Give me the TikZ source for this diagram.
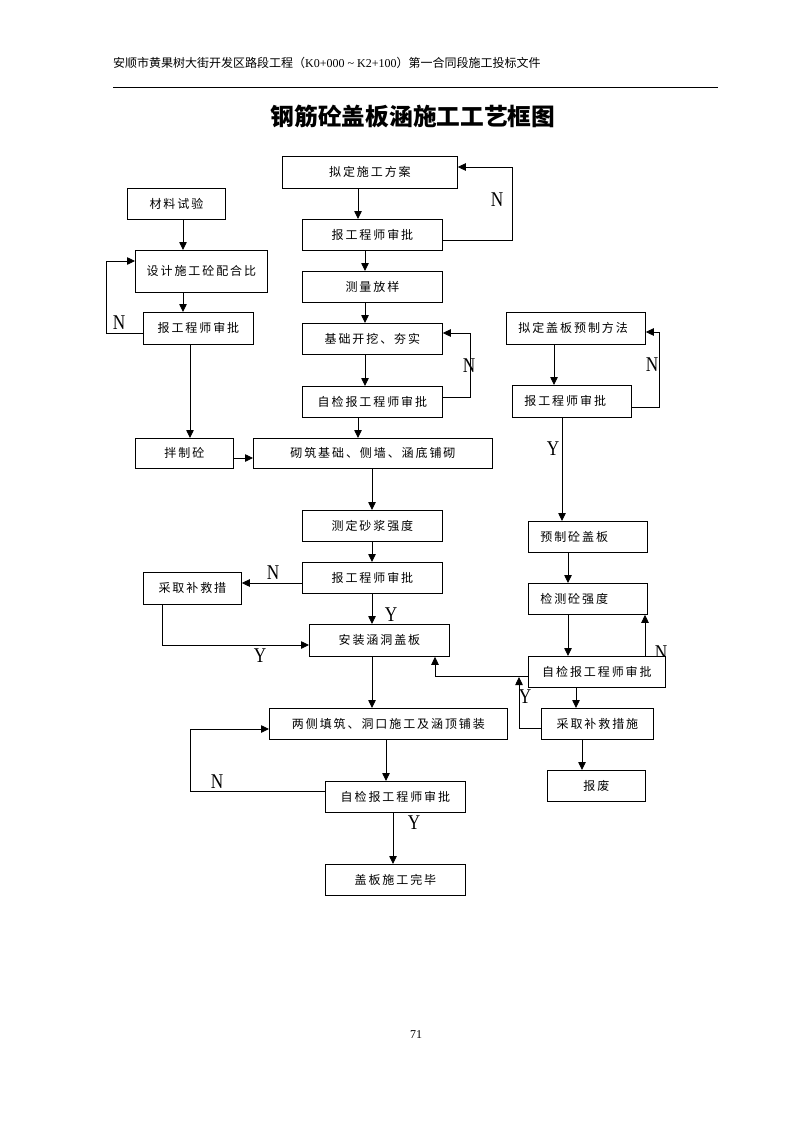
\documentclass[tikz,border=0pt]{standalone}
\usepackage{fontspec}
\setmainfont{Liberation Serif}
\newfontfamily\cjk{Noto Sans CJK SC}
\newfontfamily\cjkbox[LetterSpace=16]{Noto Sans CJK SC}
\usetikzlibrary{arrows.meta}
\newcommand\ynlab[1]{\scalebox{0.82}[1]{#1}}
\tikzset{
  bx/.style={draw, line width=0.8pt, inner sep=0pt, anchor=north west, fill=white,
    font=\cjkbox\fontsize{12}{14}\selectfont},
  lbx/.style={bx, align=left, inner xsep=12pt, text width=#1},
  arr/.style={-{Triangle[length=8pt,width=7.5pt]}, line width=0.8pt},
  yn/.style={inner sep=0pt, font=\fontsize{21}{21}\selectfont},
}
\begin{document}
\begin{tikzpicture}[x=1pt,y=-1pt]
\useasboundingbox (0,0) rectangle (793,1122);
% header
\node[anchor=west, inner sep=0pt, font=\fontsize{12}{14}\selectfont] (hdr) at (113,63)
  {\cjk 安顺市黄果树大街开发区路段工程（\rmfamily K0+000 \textasciitilde{} K2+100\cjk）第一合同段施工投标文件};
\draw[line width=0.9pt] (113,87) -- (718,87);
\node[inner sep=0pt, font=\cjk\bfseries\fontsize{23.7}{25}\selectfont] (title) at (413,116) {钢筋砼盖板涵施工工艺框图};
\node[inner sep=0pt, font=\fontsize{12}{12}\selectfont] (pg) at (416,1035) {71};

% label partly hidden under box
\node[yn] (nR5) at (661,653) {\ynlab{N}};

% boxes
\node[bx, minimum width=175, minimum height=32] (t1) at (282,156) {拟定施工方案};
\node[bx, minimum width=98, minimum height=31] (m1) at (127,188) {材料试验};
\node[bx, minimum width=140, minimum height=31] (a1) at (302,219) {报工程师审批};
\node[bx, minimum width=132, minimum height=42] (d1) at (135,250) {设计施工砼配合比};
\node[bx, minimum width=140, minimum height=31] (s1) at (302,271) {测量放样};
\node[bx, minimum width=110, minimum height=32] (a2) at (143,312) {报工程师审批};
\node[bx, minimum width=140, minimum height=31] (j1) at (302,323) {基础开挖、夯实};
\node[lbx=115pt, minimum height=32] (r1) at (506,312) {拟定盖板预制方法};
\node[bx, minimum width=140, minimum height=31] (z1) at (302,386) {自检报工程师审批};
\node[lbx=95pt, minimum height=32] (r2) at (512,385) {报工程师审批};
\node[bx, minimum width=98, minimum height=30] (b1) at (135,438) {拌制砼};
\node[bx, minimum width=239, minimum height=30] (q1) at (253,438) {砌筑基础、侧墙、涵底铺砌};
\node[bx, minimum width=140, minimum height=31] (c1) at (302,510) {测定砂浆强度};
\node[lbx=95pt, minimum height=31] (r3) at (528,521) {预制砼盖板};
\node[bx, minimum width=140, minimum height=31] (a3) at (302,562) {报工程师审批};
\node[bx, minimum width=98, minimum height=32] (k1) at (143,572) {采取补救措};
\node[lbx=95pt, minimum height=31] (r4) at (528,583) {检测砼强度};
\node[bx, minimum width=140, minimum height=32] (n1) at (309,624) {安装涵洞盖板};
\node[bx, minimum width=137, minimum height=31] (r5) at (528,656) {自检报工程师审批};
\node[bx, minimum width=238, minimum height=31] (l1) at (269,708) {两侧填筑、洞口施工及涵顶铺装};
\node[bx, minimum width=112, minimum height=31] (r6) at (541,708) {采取补救措施};
\node[bx, minimum width=98, minimum height=31] (r7) at (547,770) {报废};
\node[bx, minimum width=140, minimum height=31] (z2) at (325,781) {自检报工程师审批};
\node[bx, minimum width=140, minimum height=31] (e1) at (325,864) {盖板施工完毕};

% column / row reference coordinates
\coordinate (x183) at (183,0);
\coordinate (x190) at (190,0);
\coordinate (x358) at (358,0);
\coordinate (x365) at (365,0);
\coordinate (x372) at (372,0);
\coordinate (x386) at (386,0);
\coordinate (x393) at (393,0);
\coordinate (x554) at (554,0);
\coordinate (x562) at (562,0);
\coordinate (x568) at (568,0);
\coordinate (x576) at (576,0);
\coordinate (x582) at (582,0);
\coordinate (x645) at (645,0);
\coordinate (y458) at (0,458);
\coordinate (y583) at (0,583);
% turning points
\coordinate (pA1) at (512,240); \coordinate (pA2) at (512,167);
\coordinate (pB1) at (470,397); \coordinate (pB2) at (470,333);
\coordinate (pC1) at (106,333); \coordinate (pC2) at (106,261);
\coordinate (pD1) at (659,407); \coordinate (pD2) at (659,332);
\coordinate (pE) at (162,645);
\coordinate (pF1) at (190,791); \coordinate (pF2) at (190,729);
\coordinate (pG) at (435,676);
\coordinate (pH1) at (519,728); \coordinate (pH2) at (519,677);

% centre column
\draw[arr] (t1.south -| x358) -- (a1.north -| x358);
\draw[arr] (a1.east |- pA1) -- (pA1) -- (pA2) -- (t1.east |- pA2);
\draw[arr] (a1.south -| x365) -- (s1.north -| x365);
\draw[arr] (s1.south -| x365) -- (j1.north -| x365);
\draw[arr] (j1.south -| x365) -- (z1.north -| x365);
\draw[arr] (z1.east |- pB1) -- (pB1) -- (pB2) -- (j1.east |- pB2);
\draw[arr] (z1.south -| x358) -- (q1.north -| x358);
% left column
\draw[arr] (m1.south -| x183) -- (d1.north -| x183);
\draw[arr] (d1.south -| x183) -- (a2.north -| x183);
\draw[arr] (a2.west |- pC1) -- (pC1) -- (pC2) -- (d1.west |- pC2);
\draw[arr] (a2.south -| x190) -- (b1.north -| x190);
\draw[arr] (b1.east |- y458) -- (q1.west |- y458);
% lower centre
\draw[arr] (q1.south -| x372) -- (c1.north -| x372);
\draw[arr] (c1.south -| x372) -- (a3.north -| x372);
\draw[arr] (a3.west |- y583) -- (k1.east |- y583);
\draw[arr] (a3.south -| x372) -- (n1.north -| x372);
\draw[arr] (k1.south -| pE) -- (pE) -- (n1.west |- pE);
\draw[arr] (n1.south -| x372) -- (l1.north -| x372);
\draw[arr] (l1.south -| x386) -- (z2.north -| x386);
\draw[arr] (z2.west |- pF1) -- (pF1) -- (pF2) -- (l1.west |- pF2);
\draw[arr] (z2.south -| x393) -- (e1.north -| x393);
% right column
\draw[arr] (r1.south -| x554) -- (r2.north -| x554);
\draw[arr] (r2.east |- pD1) -- (pD1) -- (pD2) -- (r1.east |- pD2);
\draw[arr] (r2.south -| x562) -- (r3.north -| x562);
\draw[arr] (r3.south -| x568) -- (r4.north -| x568);
\draw[arr] (r4.south -| x568) -- (r5.north -| x568);
\draw[arr] (r5.north -| x645) -- (r4.south -| x645);
\draw[arr] (r5.west |- pG) -- (pG) -- (n1.south -| pG);
\draw[arr] (r5.south -| x576) -- (r6.north -| x576);
\draw[arr] (r6.west |- pH1) -- (pH1) -- (pH2);
\draw[arr] (r6.south -| x582) -- (r7.north -| x582);

% Y / N labels
\node[yn] (nA) at (497,200) {\ynlab{N}};
\node[yn] (nB) at (469,366) {\ynlab{N}};
\node[yn] (nC) at (119,323) {\ynlab{N}};
\node[yn] (nD) at (652,365) {\ynlab{N}};
\node[yn] (nE) at (273,573) {\ynlab{N}};
\node[yn] (nF) at (217,782) {\ynlab{N}};
\node[yn] (yA) at (553,449) {\ynlab{Y}};
\node[yn] (yB) at (391,615) {\ynlab{Y}};
\node[yn] (yC) at (260,656) {\ynlab{Y}};
\node[yn] (yD) at (525,697) {\ynlab{Y}};
\node[yn] (yE) at (414,823) {\ynlab{Y}};
\end{tikzpicture}
\end{document}
